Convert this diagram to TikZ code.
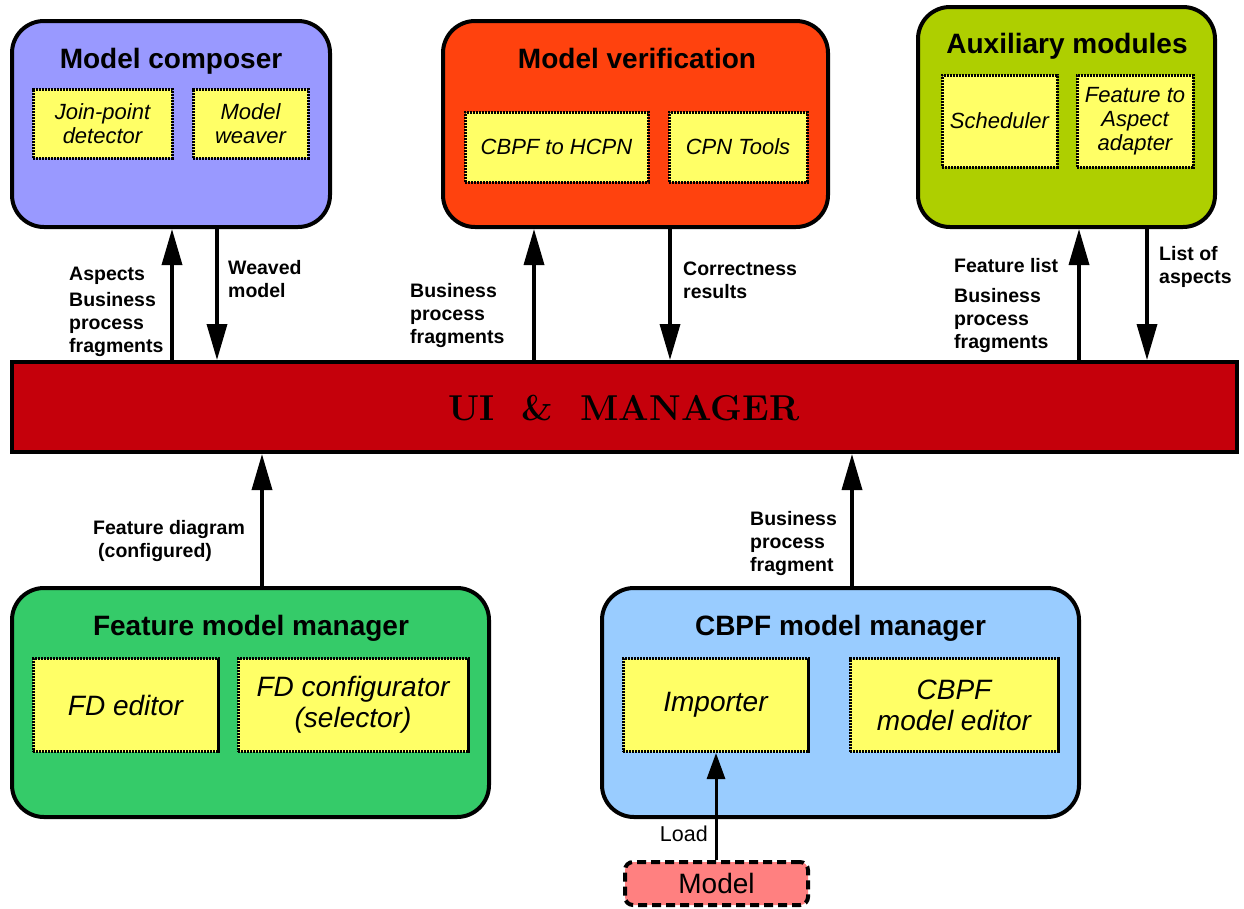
\documentclass[tikz,border=0pt]{standalone}
\usepackage{fontspec}
\setsansfont{Liberation Sans}
\usetikzlibrary{arrows.meta}
\definecolor{ink}{HTML}{000000}
\definecolor{compfill}{HTML}{9999FF}
\definecolor{veriffill}{HTML}{FF420E}
\definecolor{auxfill}{HTML}{AECF00}
\definecolor{featfill}{HTML}{35CB69}
\definecolor{cbpffill}{HTML}{99CCFF}
\definecolor{mgrfill}{HTML}{C5000B}
\definecolor{inyel}{HTML}{FFFF66}
\definecolor{modfill}{HTML}{FF8080}
\tikzset{
  modbox/.style={draw=ink,line width=4pt,rounded corners=32pt,inner sep=0pt},
  ttl/.style={anchor=base,inner sep=0pt,font=\sffamily\bfseries\fontsize{28}{32}\selectfont},
  sub/.style={draw=ink,line width=3pt,dash pattern=on 2.2pt off 0.8pt,fill=inyel,inner sep=0pt,align=center,font=\sffamily\itshape\fontsize{22}{24}\selectfont},
  subb/.style={sub,font=\sffamily\itshape\fontsize{28}{31}\selectfont},
  lbl/.style={anchor=base west,inner sep=0pt,align=left,font=\sffamily\bfseries\fontsize{19.5}{23}\selectfont},
  ar/.style={-{Triangle[length=36pt,width=20pt]},draw=ink,line width=3.5pt},
  arl/.style={-{Triangle[length=26pt,width=18pt]},draw=ink,line width=3pt},
}

\begin{document}
\begin{tikzpicture}[x=1pt,y=-1pt]
\useasboundingbox (0,0) rectangle (1244,908);
% manager bar
\node[draw=ink,line width=4pt,fill=mgrfill,minimum width=1225pt,minimum height=90pt,inner sep=0pt] (mgr) at (624.5,407) {};
\node[inner sep=0pt,font=\rmfamily\bfseries\fontsize{36}{40}\selectfont] (mgrt) at (624,408) {UI\ \ \&\ \ MANAGER};
% top modules
\node[modbox,fill=compfill,minimum width=318pt,minimum height=206pt] (comp) at (171,124) {};
\node[ttl] (compt) at (171,68) {Model composer};
\node[sub,minimum width=139pt,minimum height=69pt] (jpd) at (102.5,123.5) {Join-point\\detector};
\node[sub,minimum width=115pt,minimum height=69pt] (mw) at (250.5,123.5) {Model\\weaver};
\node[modbox,fill=veriffill,minimum width=385pt,minimum height=206pt] (verif) at (635.5,124) {};
\node[ttl] (verift) at (637,68) {Model verification};
\node[sub,minimum width=183pt,minimum height=70pt] (c2h) at (556.5,147) {CBPF to HCPN};
\node[sub,minimum width=138pt,minimum height=70pt] (cpn) at (738,147) {CPN Tools};
\node[modbox,fill=auxfill,minimum width=297pt,minimum height=220pt] (aux) at (1066.5,117) {};
\node[ttl] (auxt) at (1067,53) {Auxiliary modules};
\node[sub,minimum width=115pt,minimum height=92pt] (sch) at (999.5,121) {Scheduler};
\node[sub,minimum width=116pt,minimum height=92pt] (f2a) at (1135,121) {Feature to\\Aspect\\adapter};
% bottom modules
\node[modbox,fill=featfill,minimum width=477pt,minimum height=229pt] (feat) at (250.5,702.5) {};
\node[ttl] (featt) at (251,635) {Feature model manager};
\node[subb,minimum width=185pt,minimum height=93pt] (fde) at (125.5,705) {FD editor};
\node[subb,minimum width=230pt,minimum height=93pt] (fdc) at (353,705) {FD configurator\\(selector)};
\node[modbox,fill=cbpffill,minimum width=477pt,minimum height=229pt] (cbpf) at (840.5,702.5) {};
\node[ttl] (cbpft) at (840.5,635) {CBPF model manager};
\node[subb,minimum width=185pt,minimum height=93pt] (imp) at (715.5,705) {Importer};
\node[subb,minimum width=208pt,minimum height=93pt] (cme) at (954,705) {CBPF\\model editor};
\node[draw=ink,line width=4pt,dash pattern=on 9pt off 5pt,rounded corners=8pt,fill=modfill,minimum width=183pt,minimum height=43pt,inner sep=0pt,font=\sffamily\fontsize{28}{30}\selectfont] (model) at (716.5,883.5) {Model};
% connectors
\draw[ar] (mgr.north -| 172,0) -- (comp.south -| 172,0);
\draw[ar] (comp.south -| 217,0) -- (mgr.north -| 217,0);
\draw[ar] (mgr.north -| 534,0) -- (verif.south -| 534,0);
\draw[ar] (verif.south -| 670,0) -- (mgr.north -| 670,0);
\draw[ar] (mgr.north -| 1079,0) -- (aux.south -| 1079,0);
\draw[ar] (aux.south -| 1147,0) -- (mgr.north -| 1147,0);
\draw[ar] (feat.north -| 262,0) -- (mgr.south -| 262,0);
\draw[ar] (cbpf.north -| 852,0) -- (mgr.south -| 852,0);
\draw[arl] (model.north -| 716,0) -- (imp.south -| 716,0);
% labels
\node[lbl] (l1) at (69,352) {Aspects\\[3pt]Business\\process\\fragments};
\node[lbl] (l2) at (228,297) {Weaved\\model};
\node[lbl] (l3) at (410,343) {Business\\process\\fragments};
\node[lbl] (l4) at (683,298) {Correctness\\results};
\node[lbl] (l5) at (954,348) {Feature list\\[7pt]Business\\process\\fragments};
\node[lbl] (l6) at (1159,283) {List of\\aspects};
\node[lbl] (l7) at (93,557) {Feature diagram\\\hspace*{5pt}(configured)};
\node[lbl] (l8) at (750,571) {Business\\process\\fragment};
\node[anchor=base east,inner sep=0pt,font=\sffamily\fontsize{21.5}{24}\selectfont] (l9) at (708,841) {Load};
\end{tikzpicture}
\end{document}
